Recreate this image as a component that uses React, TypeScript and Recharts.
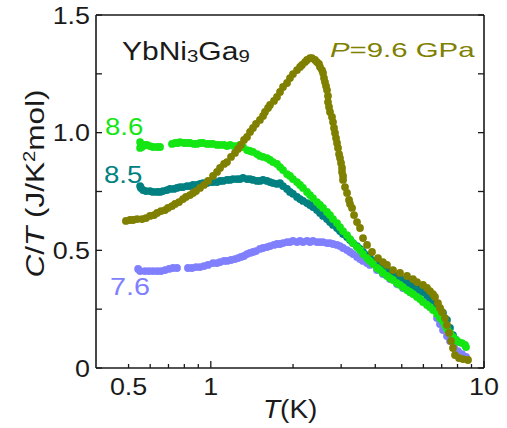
import React from "react";
import { ScatterChart, Scatter, XAxis, YAxis } from "recharts";

// P = 9.6 GPa
const tempP96 = [
  0.489, 0.506, 0.519, 0.537, 0.56, 0.579, 0.599, 0.62, 0.636, 0.657,
  0.68, 0.697, 0.721, 0.74, 0.765, 0.791, 0.811, 0.839, 0.861, 0.883,
  0.913, 0.944, 0.977, 1.019, 1.054, 1.081, 1.118, 1.146, 1.186, 1.226,
  1.258, 1.29, 1.323, 1.357, 1.392, 1.427, 1.463, 1.513, 1.553, 1.579,
  1.62, 1.647, 1.703, 1.747, 1.792, 1.838, 1.901, 1.949, 1.999, 2.068,
  2.121, 2.157, 2.212, 2.25, 2.307, 2.346, 2.407, 2.447, 2.489, 2.51,
  2.553, 2.575, 2.596, 2.618, 2.641, 2.663, 2.685, 2.685, 2.708, 2.731,
  2.777, 2.801, 2.825, 2.849, 2.873, 2.897, 2.922, 2.947, 2.971, 2.997,
  3.022, 3.022, 3.048, 3.048, 3.099, 3.152, 3.206, 3.233, 3.288, 3.344,
  3.429, 3.517, 3.607, 3.731, 3.891, 4.093, 4.268, 4.414, 4.645, 4.926,
  5.226, 5.496, 5.685, 5.98, 6.186, 6.343, 6.505, 6.616, 6.785, 6.9,
  7.018, 7.197, 7.32, 7.444, 7.571, 7.7, 7.831, 8.1, 8.378, 8.74,
];
const ctP96 = [
  0.625, 0.629, 0.629, 0.633, 0.633, 0.637, 0.646, 0.65, 0.659, 0.667,
  0.671, 0.68, 0.688, 0.697, 0.705, 0.718, 0.727, 0.735, 0.744, 0.752,
  0.765, 0.778, 0.795, 0.816, 0.833, 0.85, 0.867, 0.875, 0.897, 0.914,
  0.931, 0.948, 0.969, 0.982, 1.003, 1.02, 1.037, 1.054, 1.071, 1.088,
  1.105, 1.118, 1.135, 1.152, 1.173, 1.194, 1.211, 1.232, 1.249, 1.266,
  1.279, 1.288, 1.3, 1.309, 1.317, 1.317, 1.309, 1.3, 1.292, 1.279,
  1.266, 1.254, 1.232, 1.215, 1.198, 1.181, 1.156, 1.13, 1.109, 1.088,
  1.067, 1.045, 1.02, 0.999, 0.977, 0.956, 0.935, 0.909, 0.892, 0.871,
  0.85, 0.833, 0.816, 0.799, 0.769, 0.744, 0.714, 0.697, 0.68, 0.65,
  0.62, 0.595, 0.552, 0.523, 0.493, 0.467, 0.45, 0.438, 0.416, 0.404,
  0.391, 0.378, 0.365, 0.353, 0.34, 0.327, 0.314, 0.302, 0.276, 0.255,
  0.238, 0.212, 0.183, 0.149, 0.115, 0.085, 0.055, 0.042, 0.038, 0.034,
];

// P = 8.6 GPa
const tempP86 = [
  0.551, 0.551, 0.56, 0.574, 0.584, 0.599, 0.614, 0.636, 0.652, 0.721,
  0.74, 0.759, 0.771, 0.798, 0.818, 0.839, 0.868, 0.89, 0.913, 0.936,
  0.968, 0.993, 1.019, 1.054, 1.081, 1.118, 1.146, 1.176, 1.216, 1.247,
  1.279, 1.312, 1.357, 1.392, 1.427, 1.476, 1.513, 1.553, 1.606, 1.647,
  1.689, 1.747, 1.792, 1.838, 1.901, 1.949, 1.999, 2.068, 2.121, 2.175,
  2.25, 2.307, 2.366, 2.447, 2.51, 2.575, 2.663, 2.731, 2.801, 2.897,
  2.971, 3.048, 3.152, 3.233, 3.316, 3.429, 3.517, 3.607, 3.731, 3.825,
  3.924, 4.058, 4.162, 4.268, 4.414, 4.529, 4.645, 4.804, 4.926, 5.052,
  5.226, 5.359, 5.496, 5.685, 5.832, 5.98, 6.186, 6.343, 6.505, 6.729,
  6.9, 7.078, 7.197, 7.32, 7.508, 7.7, 7.898, 8.1, 8.308, 8.521, 8.594,
];
const ctP86 = [
  0.96, 0.935, 0.939, 0.948, 0.948, 0.943, 0.939, 0.939, 0.939, 0.952,
  0.956, 0.956, 0.96, 0.956, 0.956, 0.956, 0.952, 0.952, 0.956, 0.956,
  0.952, 0.952, 0.952, 0.948, 0.948, 0.948, 0.943, 0.948, 0.943, 0.943,
  0.948, 0.939, 0.926, 0.922, 0.918, 0.909, 0.901, 0.897, 0.892, 0.884,
  0.875, 0.867, 0.854, 0.841, 0.824, 0.816, 0.803, 0.79, 0.778, 0.765,
  0.748, 0.735, 0.722, 0.705, 0.693, 0.68, 0.663, 0.65, 0.633, 0.616,
  0.599, 0.582, 0.565, 0.548, 0.531, 0.514, 0.501, 0.484, 0.467, 0.455,
  0.442, 0.425, 0.416, 0.404, 0.391, 0.382, 0.374, 0.361, 0.353, 0.344,
  0.331, 0.323, 0.314, 0.302, 0.293, 0.28, 0.268, 0.259, 0.246, 0.229,
  0.212, 0.2, 0.183, 0.166, 0.149, 0.132, 0.119, 0.11, 0.106, 0.098, 0.089,
];

// P = 8.5 GPa
const tempP85 = [
  0.551, 0.555, 0.565, 0.579, 0.599, 0.614, 0.636, 0.652, 0.668, 0.691,
  0.709, 0.733, 0.752, 0.771, 0.791, 0.818, 0.839, 0.861, 0.89, 0.913,
  0.936, 0.968, 0.993, 1.019, 1.054, 1.081, 1.108, 1.146, 1.176, 1.206,
  1.247, 1.279, 1.312, 1.357, 1.392, 1.427, 1.476, 1.513, 1.553, 1.606,
  1.647, 1.689, 1.747, 1.792, 1.838, 1.901, 1.949, 1.999, 2.068, 2.121,
  2.175, 2.25, 2.307, 2.366, 2.447, 2.51, 2.575, 2.663, 2.731, 2.801,
  2.897, 2.971, 3.048, 3.152, 3.233, 3.316, 3.429, 3.517, 3.607, 3.731,
  3.825, 3.924, 4.058, 4.162, 4.268, 4.414, 4.529, 4.645, 4.804, 4.926,
  5.052, 5.226, 5.359, 5.496, 5.685, 5.832, 5.98, 6.186, 6.343, 6.505,
  6.729, 6.9, 7.078, 7.32, 7.508, 7.7, 7.898,
];
const ctP85 = [
  0.773, 0.765, 0.756, 0.752, 0.752, 0.748, 0.748, 0.748, 0.752, 0.756,
  0.761, 0.761, 0.765, 0.769, 0.769, 0.773, 0.773, 0.778, 0.778, 0.782,
  0.786, 0.786, 0.79, 0.79, 0.79, 0.795, 0.795, 0.799, 0.799, 0.803,
  0.803, 0.803, 0.808, 0.803, 0.803, 0.799, 0.795, 0.795, 0.799, 0.795,
  0.79, 0.786, 0.782, 0.786, 0.773, 0.761, 0.748, 0.74, 0.727, 0.718,
  0.71, 0.701, 0.693, 0.684, 0.671, 0.659, 0.646, 0.633, 0.62, 0.608,
  0.595, 0.582, 0.569, 0.557, 0.544, 0.531, 0.518, 0.506, 0.493, 0.48,
  0.467, 0.455, 0.442, 0.433, 0.425, 0.416, 0.408, 0.399, 0.391, 0.382,
  0.374, 0.365, 0.357, 0.348, 0.34, 0.331, 0.323, 0.31, 0.297, 0.285,
  0.268, 0.251, 0.234, 0.204, 0.17, 0.14, 0.119,
];

// P = 7.6 GPa
const tempP76 = [
  0.542, 0.551, 0.574, 0.594, 0.614, 0.636, 0.657, 0.68, 0.703, 0.727,
  0.752, 0.825, 0.853, 0.883, 0.913, 0.944, 0.977, 1.019, 1.054, 1.081,
  1.118, 1.146, 1.186, 1.226, 1.258, 1.29, 1.323, 1.357, 1.392, 1.427,
  1.463, 1.513, 1.553, 1.606, 1.647, 1.703, 1.747, 1.792, 1.838, 1.901,
  1.949, 1.999, 2.068, 2.121, 2.175, 2.25, 2.307, 2.366, 2.447, 2.51,
  2.575, 2.663, 2.731, 2.801, 2.897, 2.971, 3.048, 3.152, 3.233, 3.316,
  3.429, 3.517, 3.607, 3.731, 3.825, 4.058, 4.268, 4.529, 4.804, 5.052,
  5.359, 5.685, 5.98, 6.343, 6.729, 6.9, 7.078, 7.32, 7.508, 7.766,
  8.031, 8.308, 8.594,
];
const ctP76 = [
  0.421, 0.412, 0.412, 0.412, 0.412, 0.412, 0.412, 0.416, 0.421, 0.425,
  0.425, 0.425, 0.425, 0.429, 0.429, 0.433, 0.438, 0.446, 0.446, 0.45,
  0.455, 0.455, 0.459, 0.463, 0.467, 0.472, 0.476, 0.484, 0.489, 0.493,
  0.497, 0.506, 0.51, 0.514, 0.518, 0.523, 0.527, 0.527, 0.531, 0.535,
  0.535, 0.54, 0.535, 0.54, 0.535, 0.54, 0.535, 0.54, 0.535, 0.535,
  0.535, 0.531, 0.531, 0.527, 0.523, 0.518, 0.51, 0.501, 0.493, 0.484,
  0.472, 0.463, 0.455, 0.446, 0.438, 0.416, 0.399, 0.378, 0.357, 0.34,
  0.323, 0.306, 0.285, 0.259, 0.212, 0.187, 0.161, 0.136, 0.115, 0.089,
  0.072, 0.059, 0.047,
];

const xTicks = [0.5, 0.6, 0.7, 0.8, 0.9, 1, 2, 3, 4, 5, 6, 7, 8, 9, 10];
const xLabels: Record<string, string> = { "0.5": "0.5", "1": "1", "10": "10" };
const yTicks = [0, 0.25, 0.5, 0.75, 1, 1.25, 1.5];
const yLabels: Record<string, string> = { "0": "0", "0.5": "0.5", "1": "1.0", "1.5": "1.5" };

const OLIVE = "#808000";
const GREEN = "#14e614";
const TEAL = "#008080";
const VIOLET = "#8080ff";
const INK = "#1a1a1a";
const FONT = "'Liberation Sans', Arial, sans-serif";

const toPoints = (t: number[], c: number[]) => t.map((T, i) => ({ T, ct: c[i] }));

const dot = (color: string) => (p: any) => (
  <circle cx={p.cx} cy={p.cy} r={3.9} fill={color} />
);

const BottomTick = ({ x, y, payload }: any) => {
  const v = payload.value;
  const major = v === 1 || v === 10;
  const label = xLabels[String(v)];
  return (
    <g>
      <line x1={x} x2={x} y1={y} y2={y - (major ? 7 : 4)} stroke={INK} strokeWidth={1.3} />
      {label && (
        <text
          transform={`translate(${x},${y + 27}) scale(1.12,1)`}
          textAnchor="middle"
          fontSize={24}
          fontFamily={FONT}
          fill={INK}
        >
          {label}
        </text>
      )}
    </g>
  );
};

const TopTick = ({ x, y, payload }: any) => {
  const major = payload.value === 1 || payload.value === 10;
  return <line x1={x} x2={x} y1={y} y2={y + (major ? 7 : 4)} stroke={INK} strokeWidth={1.3} />;
};

const LeftTick = ({ x, y, payload }: any) => {
  const label = yLabels[String(payload.value)];
  return (
    <g>
      <line x1={x} x2={x + 6} y1={y} y2={y} stroke={INK} strokeWidth={1.3} />
      {label && (
        <text
          transform={`translate(${x - 6},${y + 8.5}) scale(1.12,1)`}
          textAnchor="end"
          fontSize={24}
          fontFamily={FONT}
          fill={INK}
        >
          {label}
        </text>
      )}
    </g>
  );
};

const RightTick = ({ x, y }: any) => (
  <line x1={x} x2={x - 6} y1={y} y2={y} stroke={INK} strokeWidth={1.3} />
);

export default function App() {
  const axisLine = { stroke: INK, strokeWidth: 1.6 };
  return (
    <div style={{ position: "absolute", left: 0, top: 0, width: 507, height: 428, background: "#fff" }}>
      <ScatterChart width={507} height={428} margin={{ top: 10, right: 13, bottom: 20, left: 36 }}>
        <XAxis
          dataKey="T"
          type="number"
          scale="log"
          domain={[0.38, 10]}
          allowDataOverflow
          ticks={xTicks}
          interval={0}
          tickSize={0}
          tickMargin={0}
          tickLine={false}
          tick={<BottomTick />}
          axisLine={axisLine}
          height={40}
        />
        <XAxis
          xAxisId="top"
          orientation="top"
          type="number"
          scale="log"
          domain={[0.38, 10]}
          allowDataOverflow
          ticks={xTicks}
          interval={0}
          tickSize={0}
          tickMargin={0}
          tickLine={false}
          tick={<TopTick />}
          axisLine={axisLine}
          height={5}
        />
        <YAxis
          dataKey="ct"
          type="number"
          domain={[0, 1.5]}
          allowDataOverflow
          ticks={yTicks}
          interval={0}
          tickSize={0}
          tickMargin={0}
          tickLine={false}
          tick={<LeftTick />}
          axisLine={axisLine}
          width={60}
        />
        <YAxis
          yAxisId="right"
          orientation="right"
          type="number"
          domain={[0, 1.5]}
          allowDataOverflow
          ticks={yTicks}
          interval={0}
          tickSize={0}
          tickMargin={0}
          tickLine={false}
          tick={<RightTick />}
          axisLine={axisLine}
          width={10}
        />
        <Scatter data={toPoints(tempP76, ctP76)} shape={dot(VIOLET)} isAnimationActive={false} />
        <Scatter data={toPoints(tempP85, ctP85)} shape={dot(TEAL)} isAnimationActive={false} />
        <Scatter data={toPoints(tempP86, ctP86)} shape={dot(GREEN)} isAnimationActive={false} />
        <Scatter data={toPoints(tempP96, ctP96)} shape={dot(OLIVE)} isAnimationActive={false} />
      </ScatterChart>

      <svg
        width={507}
        height={428}
        style={{ position: "absolute", left: 0, top: 0, pointerEvents: "none" }}
        fontFamily={FONT}
      >
        <text transform="translate(122,60) scale(1.2,1)" fontSize={25} fill={INK}>
          YbNi<tspan fontSize={17} dy={2}>3</tspan>
          <tspan dy={-2}>Ga</tspan>
          <tspan fontSize={17} dy={2}>9</tspan>
        </text>
        <text transform="translate(330,57) scale(1.4,1)" fontSize={21} fill={OLIVE}>
          <tspan fontStyle="italic">P</tspan>=9.6 GPa
        </text>
        <text transform="translate(105,135) scale(1.2,1)" fontSize={23} fill={GREEN}>8.6</text>
        <text transform="translate(104,183) scale(1.2,1)" fontSize={23} fill={TEAL}>8.5</text>
        <text transform="translate(110,295) scale(1.2,1)" fontSize={24} fill={VIOLET}>7.6</text>
        <text transform="translate(263,418) scale(1.12,1)" fontSize={25} fill={INK}>
          <tspan fontStyle="italic">T</tspan>(K)
        </text>
        <text
          transform="translate(44,183.5) rotate(-90) scale(1.26,1)"
          textAnchor="middle"
          fontSize={25}
          fill={INK}
        >
          <tspan fontStyle="italic">C</tspan>/<tspan fontStyle="italic">T</tspan> (J/K
          <tspan fontSize={16} dy={-9}>2</tspan>
          <tspan dy={9}>mol)</tspan>
        </text>
      </svg>
    </div>
  );
}
